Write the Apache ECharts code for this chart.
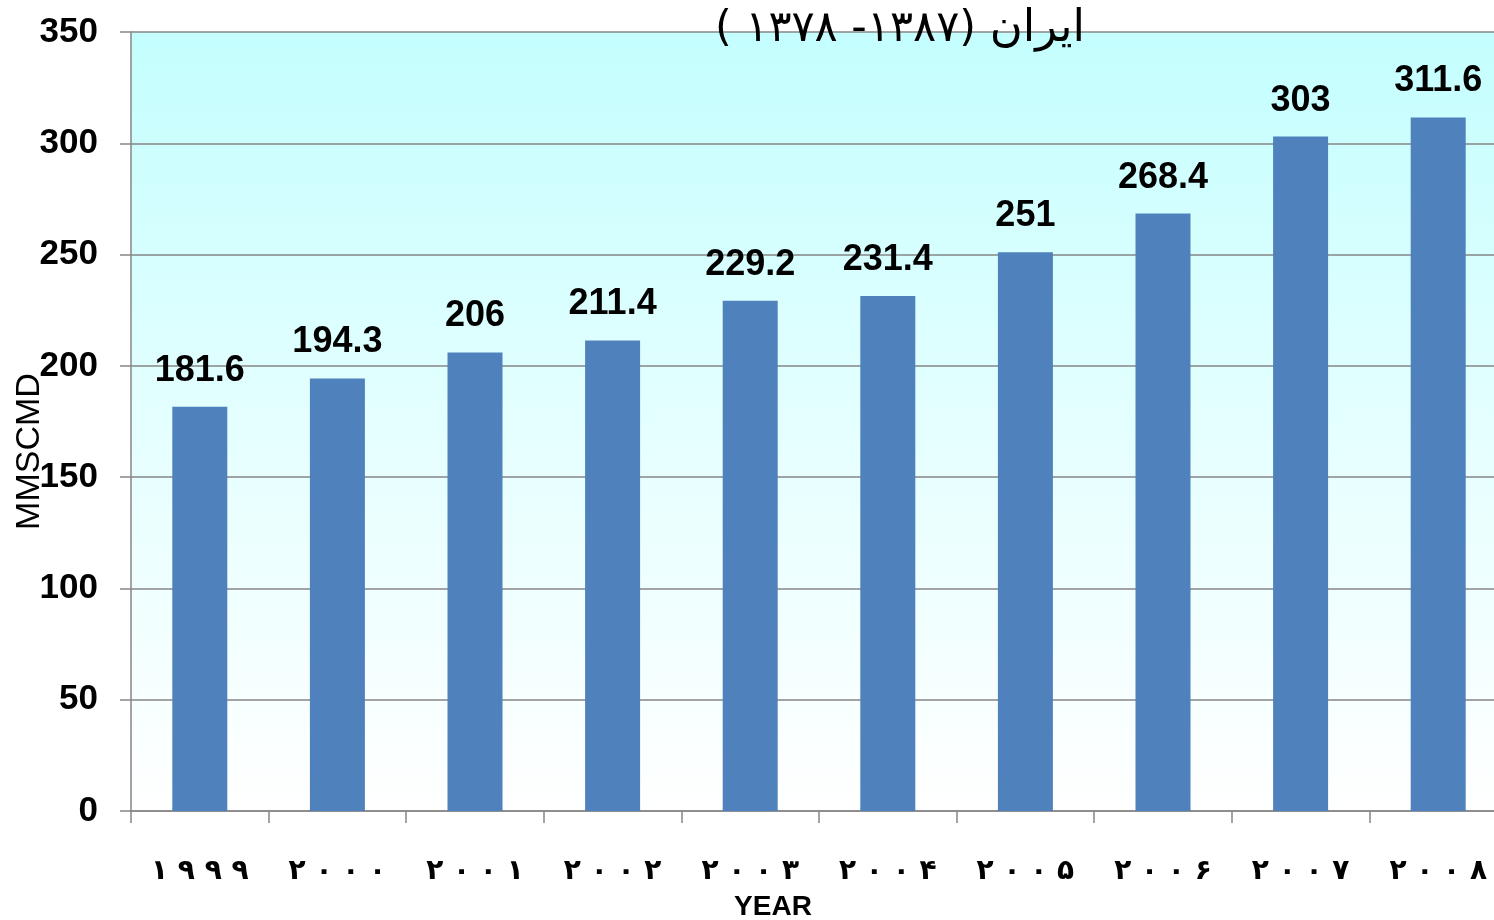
<!DOCTYPE html>
<html>
<head>
<meta charset="utf-8">
<script src="https://cdn.jsdelivr.net/npm/echarts@6/dist/echarts.min.js"></script>
<style>
    html, body { margin: 0; padding: 0; background: #fff; }
    #chart { width: 1494px; height: 920px; }
</style>
</head>
<body>
<div id="chart"></div>
<script>
    // years in Persian digits, spaced like the original
    var years = ['۱ ۹ ۹ ۹', '۲ ۰ ۰ ۰', '۲ ۰ ۰ ۱', '۲ ۰ ۰ ۲', '۲ ۰ ۰ ۳',
                 '۲ ۰ ۰ ۴', '۲ ۰ ۰ ۵', '۲ ۰ ۰ ۶', '۲ ۰ ۰ ۷', '۲ ۰ ۰ ۸'];
    var production = [181.6, 194.3, 206, 211.4, 229.2, 231.4, 251, 268.4, 303, 311.6];
    // title pieces in the order they appear on screen
    var titleYears = '( ۱۳۷۸ -۱۳۸۷) ';
    var titleName = 'ایران';

    var myChart = echarts.init(document.getElementById('chart'));

    var option = {
        animation: false,
        title: {
            text: '{y|' + titleYears + '}{n|' + titleName + '}',
            left: 895,
            top: 2,
            textAlign: 'center',
            textStyle: {
                fontWeight: 'normal',
                rich: {
                    y: {fontFamily: 'DejaVu Sans', fontWeight: 'normal', fontSize: 43, color: '#000'},
                    n: {fontFamily: 'DejaVu Sans', fontWeight: 'normal', fontSize: 45, color: '#000'}
                }
            }
        },
        grid: {
            left: 131,
            right: -13,
            top: 32,
            bottom: 109,
            outerBoundsMode: 'none',
            containLabel: false,
            show: true,
            borderWidth: 0,
            backgroundColor: new echarts.graphic.LinearGradient(0, 0, 0, 1, [
                {offset: 0, color: '#c4fefe'},
                {offset: 0.5, color: '#e4ffff'},
                {offset: 1, color: '#ffffff'}
            ])
        },
        xAxis: {
            type: 'category',
            data: years,
            name: 'YEAR',
            nameLocation: 'middle',
            nameGap: 82,
            nameTextStyle: {
                fontFamily: 'Liberation Sans',
                fontWeight: 'bold',
                fontSize: 28,
                color: '#000',
                padding: [0, 92, 0, 0]
            },
            axisLine: {lineStyle: {color: '#868686', width: 1.5}},
            axisTick: {show: true, interval: 0, length: 12, lineStyle: {color: '#868686', width: 1.5}},
            axisLabel: {
                interval: 0,
                margin: 47,
                fontFamily: 'DejaVu Sans',
                fontWeight: 'bold',
                fontSize: 28,
                color: '#000'
            }
        },
        yAxis: {
            type: 'value',
            min: 0,
            max: 350,
            interval: 50,
            name: 'MMSCMD',
            nameLocation: 'middle',
            nameMoveOverlap: false,
            nameGap: 84,
            nameTextStyle: {
                fontFamily: 'Liberation Sans',
                fontSize: 34,
                color: '#000',
                padding: [0, 60, 0, 0]
            },
            axisLine: {show: true, lineStyle: {color: '#868686', width: 1.5}},
            axisTick: {show: true, length: 11, lineStyle: {color: '#868686', width: 1.5}},
            splitLine: {lineStyle: {color: '#868686', width: 1.5}},
            axisLabel: {
                margin: 33,
                fontFamily: 'Liberation Sans',
                fontWeight: 'bold',
                fontSize: 35,
                color: '#000'
            }
        },
        series: [{
            type: 'bar',
            data: production,
            barWidth: 55,
            itemStyle: {color: '#4f81bd'},
            label: {
                show: true,
                position: 'top',
                distance: 18,
                fontFamily: 'Liberation Sans',
                fontWeight: 'bold',
                fontSize: 36,
                color: '#000'
            }
        }]
    };

    myChart.setOption(option);
</script>
</body>
</html>
